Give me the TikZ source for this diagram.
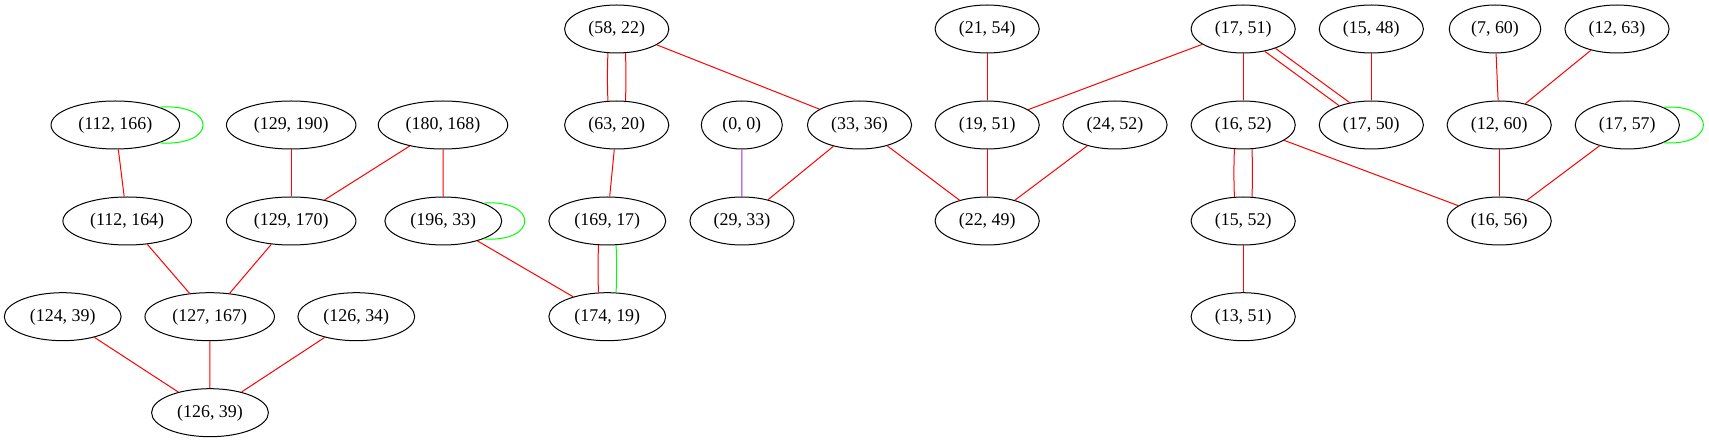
\documentclass[tikz,border=0pt]{standalone}
\usepackage{fontspec}
\setmainfont{Liberation Serif}
\usetikzlibrary{shapes.geometric, arrows}
\definecolor{gvpurple}{HTML}{A020F0}
\tikzstyle{pair} = [ellipse, draw, line width=1pt, inner xsep=8.5pt, minimum width=81pt, minimum height=48pt, font=\fontsize{17.9}{21}\selectfont]
\tikzstyle{rline} = [line width=1pt, red]
\tikzstyle{gline} = [line width=1pt, green]
\tikzstyle{pline} = [line width=1pt, gvpurple]

\begin{document}
\begin{tikzpicture}[x=1pt,y=-1pt]
      \useasboundingbox (0,0) rectangle (1709,443);
      \node (v1) [pair] at (115.3,125) {(112, 166)};
      \node (v2) [pair] at (291.2,125) {(129, 190)};
      \node (v3) [pair] at (443,125) {(180, 168)};
      \node (v4) [pair] at (127.2,221) {(112, 164)};
      \node (v5) [pair] at (291.2,221) {(129, 170)};
      \node (v6) [pair] at (443.3,221) {(196, 33)};
      \node (v7) [pair] at (62.7,316.7) {(124, 39)};
      \node (v8) [pair] at (209.7,316.7) {(127, 167)};
      \node (v9) [pair] at (356.3,316.7) {(126, 34)};
      \node (v10) [pair] at (210,412.7) {(126, 39)};
      \node (v11) [pair] at (616.7,29) {(58, 22)};
      \node (v12) [pair] at (616.7,125) {(63, 20)};
      \node (v13) [pair] at (607.3,221) {(169, 17)};
      \node (v14) [pair] at (607.3,316.7) {(174, 19)};
      \node (v15) [pair] at (741.8,125) {(0, 0)};
      \node (v16) [pair] at (742,221) {(29, 33)};
      \node (v17) [pair] at (859.5,125) {(33, 36)};
      \node (v18) [pair] at (987.2,29) {(21, 54)};
      \node (v19) [pair] at (987.2,125) {(19, 51)};
      \node (v20) [pair] at (987.2,221) {(22, 49)};
      \node (v21) [pair] at (1115,125) {(24, 52)};
      \node (v22) [pair] at (1243.2,29) {(17, 51)};
      \node (v23) [pair] at (1371.3,29) {(15, 48)};
      \node (v24) [pair] at (1243.2,125) {(16, 52)};
      \node (v25) [pair] at (1371.3,125) {(17, 50)};
      \node (v26) [pair] at (1243.2,221) {(15, 52)};
      \node (v27) [pair] at (1243.2,316.7) {(13, 51)};
      \node (v28) [pair] at (1495,29) {(7, 60)};
      \node (v29) [pair] at (1617,29) {(12, 63)};
      \node (v30) [pair] at (1499.2,125) {(12, 60)};
      \node (v31) [pair] at (1627.3,125) {(17, 57)};
      \node (v32) [pair] at (1499.2,221) {(16, 56)};
      \draw [gline] (v1.22) .. controls +(58,-4) and +(58,4) .. (v1.-22);
      \draw [gline] (v6.24) .. controls +(55,-4) and +(55,4) .. (v6.-24);
      \draw [gline] (v31.26) .. controls +(53,-4) and +(53,4) .. (v31.-26);
      \draw [rline] (v1) -- (v4);
      \draw [rline] (v2) -- (v5);
      \draw [rline] (v3) -- (v5);
      \draw [rline] (v3) -- (v6);
      \draw [rline] (v4) -- (v8);
      \draw [rline] (v5) -- (v8);
      \draw [rline] (v6) -- (v14);
      \draw [rline] (v7) -- (v10);
      \draw [rline] (v8) -- (v10);
      \draw [rline] (v9) -- (v10);
      \draw [rline] (v11.-110) to[bend right=2] (v12.110);
      \draw [rline] (v11.-70) to[bend left=2] (v12.70);
      \draw [rline] (v11) -- (v17);
      \draw [rline] (v12) -- (v13);
      \draw [rline] (v13.-110) to[bend right=2] (v14.110);
      \draw [gline] (v13.-70) to[bend left=2] (v14.70);
      \draw [pline] (v15) -- (v16);
      \draw [rline] (v17) -- (v16);
      \draw [rline] (v17) -- (v20);
      \draw [rline] (v18) -- (v19);
      \draw [rline] (v22) -- (v19);
      \draw [rline] (v19) -- (v20);
      \draw [rline] (v21) -- (v20);
      \draw [rline] (v22) -- (v24);
      \draw [rline] (v22.-46) -- (v25.149);
      \draw [rline] (v22.-31) -- (v25.134);
      \draw [rline] (v23) -- (v25);
      \draw [rline] (v24.-110) to[bend right=2] (v26.110);
      \draw [rline] (v24.-70) to[bend left=2] (v26.70);
      \draw [rline] (v24) -- (v32);
      \draw [rline] (v26) -- (v27);
      \draw [rline] (v28) -- (v30);
      \draw [rline] (v29) -- (v30);
      \draw [rline] (v30) -- (v32);
      \draw [rline] (v31) -- (v32);
    \end{tikzpicture}
\end{document}
